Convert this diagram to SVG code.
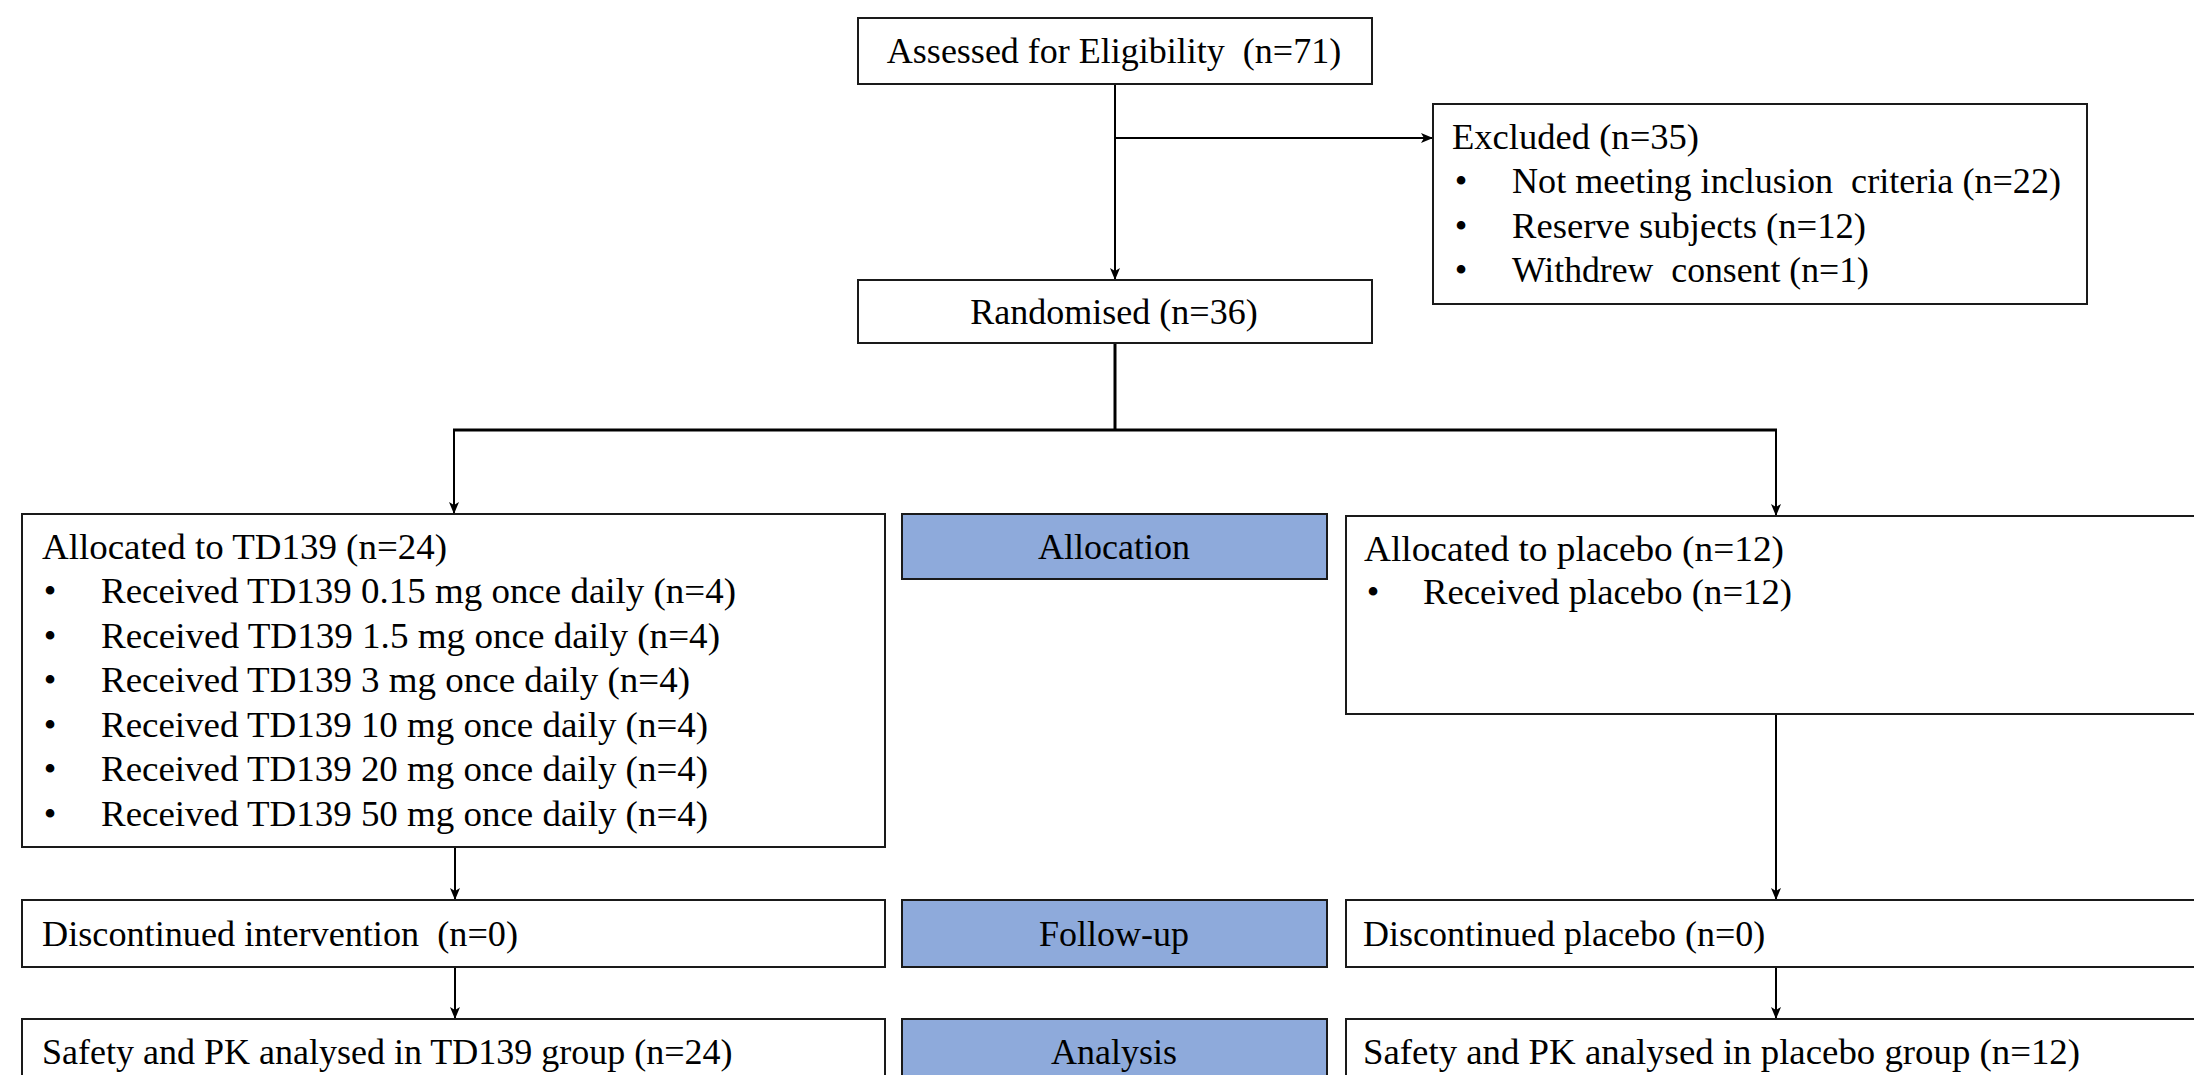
<svg xmlns="http://www.w3.org/2000/svg" width="2194" height="1075" viewBox="0 0 2194 1075">
<style>
.box{fill:#ffffff;stroke:#1a1a1a;stroke-width:2}
.phase{fill:#8eaadb;stroke:#1a1a1a;stroke-width:2}
.t{font-family:"Liberation Serif","Times New Roman",serif;font-size:36px;fill:#000}
.c{text-anchor:middle}
.ln{fill:none;stroke:#000;stroke-width:2}
.thick{fill:none;stroke:#000;stroke-width:3}
</style>
<defs>
<marker id="arr" viewBox="0 0 12 10" refX="12" refY="5" markerWidth="12" markerHeight="10" markerUnits="userSpaceOnUse" orient="auto">
<path d="M0,0 L12,5 L0,10 L3,5 Z" fill="#000"/>
</marker>
</defs>
<rect width="2194" height="1075" fill="#ffffff"/>
<g id="connectors">
<path class="ln" d="M1115,84 V280" marker-end="url(#arr)"/>
<path class="ln" d="M1115,138 H1433" marker-end="url(#arr)"/>
<path class="thick" d="M1115,343 V430"/>
<path class="thick" d="M453,430 H1777"/>
<path class="ln" d="M454,430 V514" marker-end="url(#arr)"/>
<path class="ln" d="M1776,430 V516" marker-end="url(#arr)"/>
<path class="ln" d="M455,847 V900" marker-end="url(#arr)"/>
<path class="ln" d="M455,967 V1019" marker-end="url(#arr)"/>
<path class="ln" d="M1776,714 V900" marker-end="url(#arr)"/>
<path class="ln" d="M1776,967 V1019" marker-end="url(#arr)"/>
</g>
<g id="assessed">
<rect class="box" x="858" y="18" width="514" height="66"/>
<text class="t c" x="1114" y="63" xml:space="preserve">Assessed for Eligibility  (n=71)</text>
</g>
<g id="excluded">
<rect class="box" x="1433" y="104" width="654" height="200"/>
<text class="t" x="1452" y="149" textLength="247" lengthAdjust="spacingAndGlyphs">Excluded (n=35)</text>
<text class="t c" x="1461" y="193">•</text>
<text class="t" x="1512" y="193" xml:space="preserve" textLength="549" lengthAdjust="spacingAndGlyphs">Not meeting inclusion  criteria (n=22)</text>
<text class="t c" x="1461" y="238">•</text>
<text class="t" x="1512" y="238" textLength="354" lengthAdjust="spacingAndGlyphs">Reserve subjects (n=12)</text>
<text class="t c" x="1461" y="282">•</text>
<text class="t" x="1512" y="282" xml:space="preserve" textLength="357" lengthAdjust="spacingAndGlyphs">Withdrew  consent (n=1)</text>
</g>
<g id="randomised">
<rect class="box" x="858" y="280" width="514" height="63"/>
<text class="t c" x="1114" y="324">Randomised (n=36)</text>
</g>
<g id="alloc-td139">
<rect class="box" x="22" y="514" width="863" height="333"/>
<text class="t" x="42" y="559" textLength="405" lengthAdjust="spacingAndGlyphs">Allocated to TD139 (n=24)</text>
<text class="t c" x="50" y="603">•</text>
<text class="t" x="101" y="603" textLength="635" lengthAdjust="spacingAndGlyphs">Received TD139 0.15 mg once daily (n=4)</text>
<text class="t c" x="50" y="648">•</text>
<text class="t" x="101" y="648" textLength="619" lengthAdjust="spacingAndGlyphs">Received TD139 1.5 mg once daily (n=4)</text>
<text class="t c" x="50" y="692">•</text>
<text class="t" x="101" y="692" textLength="589" lengthAdjust="spacingAndGlyphs">Received TD139 3 mg once daily (n=4)</text>
<text class="t c" x="50" y="737">•</text>
<text class="t" x="101" y="737" textLength="607" lengthAdjust="spacingAndGlyphs">Received TD139 10 mg once daily (n=4)</text>
<text class="t c" x="50" y="781">•</text>
<text class="t" x="101" y="781" textLength="607" lengthAdjust="spacingAndGlyphs">Received TD139 20 mg once daily (n=4)</text>
<text class="t c" x="50" y="826">•</text>
<text class="t" x="101" y="826" textLength="607" lengthAdjust="spacingAndGlyphs">Received TD139 50 mg once daily (n=4)</text>
</g>
<g id="allocation">
<rect class="phase" x="902" y="514" width="425" height="65"/>
<text class="t c" x="1114" y="559">Allocation</text>
</g>
<g id="alloc-placebo">
<rect class="box" x="1346" y="516" width="870" height="198"/>
<text class="t" x="1364" y="561" textLength="420" lengthAdjust="spacingAndGlyphs">Allocated to placebo (n=12)</text>
<text class="t c" x="1373" y="604">•</text>
<text class="t" x="1423" y="604" textLength="369" lengthAdjust="spacingAndGlyphs">Received placebo (n=12)</text>
</g>
<g id="disc-td139">
<rect class="box" x="22" y="900" width="863" height="67"/>
<text class="t" x="42" y="946" xml:space="preserve" textLength="476" lengthAdjust="spacingAndGlyphs">Discontinued intervention  (n=0)</text>
</g>
<g id="followup">
<rect class="phase" x="902" y="900" width="425" height="67"/>
<text class="t c" x="1114" y="946">Follow-up</text>
</g>
<g id="disc-placebo">
<rect class="box" x="1346" y="900" width="870" height="67"/>
<text class="t" x="1363" y="946">Discontinued placebo (n=0)</text>
</g>
<g id="safety-td139">
<rect class="box" x="22" y="1019" width="863" height="70"/>
<text class="t" x="42" y="1064">Safety and PK analysed in TD139 group (n=24)</text>
</g>
<g id="analysis">
<rect class="phase" x="902" y="1019" width="425" height="70"/>
<text class="t c" x="1114" y="1064">Analysis</text>
</g>
<g id="safety-placebo">
<rect class="box" x="1346" y="1019" width="870" height="70"/>
<text class="t" x="1363" y="1064" textLength="717" lengthAdjust="spacingAndGlyphs">Safety and PK analysed in placebo group (n=12)</text>
</g>
</svg>
